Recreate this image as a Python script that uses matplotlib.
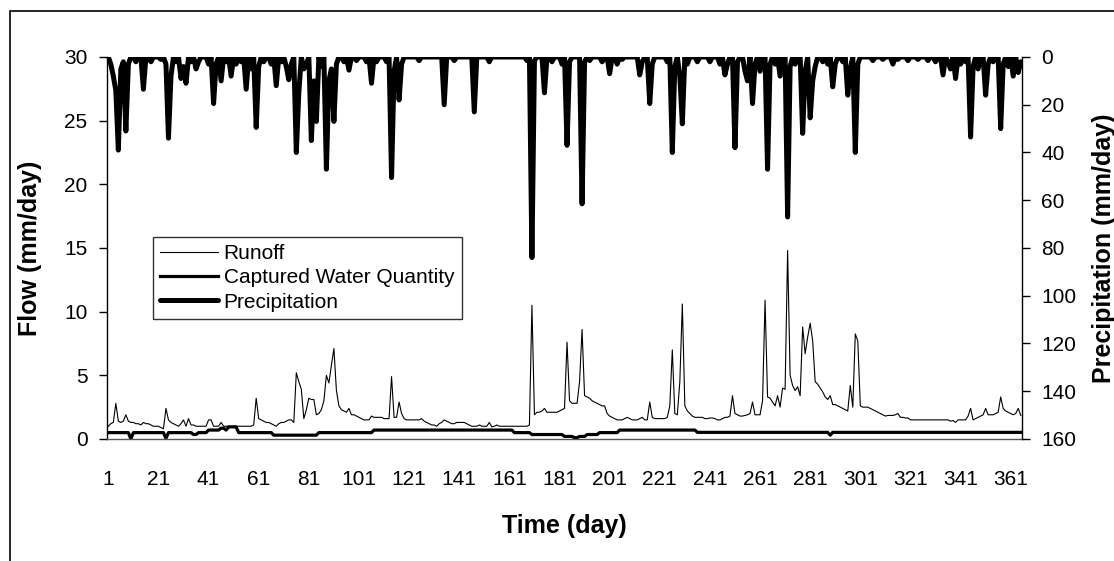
import numpy as np
import matplotlib
matplotlib.use('Agg')
import matplotlib.pyplot as plt
from matplotlib.patches import Rectangle

plt.rcParams['font.family'] = ['Liberation Sans', 'DejaVu Sans']

# daily runoff (mm/day), day 1..365
runoff = [
    1.0, 1.2, 1.3, 2.8, 1.4, 1.3, 1.4, 1.9, 1.4, 1.3,
    1.3, 1.2, 1.2, 1.1, 1.3, 1.2, 1.2, 1.1, 1.0, 1.0,
    1.0, 0.9, 0.8, 2.4, 1.5, 1.3, 1.2, 1.1, 1.0, 1.2,
    1.5, 1.0, 1.6, 1.1, 1.1, 1.0, 1.0, 1.0, 1.0, 1.0,
    1.5, 1.5, 1.0, 1.0, 1.0, 1.3, 1.0, 1.0, 1.0, 1.0,
    1.0, 1.0, 1.0, 1.0, 1.0, 1.0, 1.0, 1.0, 1.1, 3.2,
    1.6, 1.5, 1.4, 1.3, 1.3, 1.2, 1.1, 1.0, 1.2, 1.3,
    1.3, 1.4, 1.5, 1.5, 1.3, 5.2, 4.5, 3.9, 1.6, 2.3,
    3.2, 3.1, 3.1, 1.9, 2.0, 2.3, 3.0, 5.0, 4.4, 5.8,
    7.1, 3.8, 2.6, 2.3, 2.2, 2.1, 2.4, 1.9, 1.9, 1.8,
    1.7, 1.6, 1.5, 1.5, 1.5, 1.8, 1.7, 1.7, 1.7, 1.7,
    1.6, 1.6, 1.6, 4.9, 1.7, 1.7, 2.9, 2.0, 1.6, 1.5,
    1.5, 1.5, 1.5, 1.5, 1.5, 1.6, 1.4, 1.3, 1.2, 1.1,
    1.1, 1.0, 1.2, 1.3, 1.5, 1.4, 1.3, 1.2, 1.2, 1.3,
    1.3, 1.3, 1.3, 1.2, 1.1, 1.0, 1.0, 1.0, 1.1, 1.0,
    1.0, 1.0, 1.3, 0.95, 1.0, 1.1, 1.0, 1.0, 1.0, 1.0,
    1.0, 1.0, 1.0, 1.0, 1.0, 1.0, 1.0, 1.0, 1.1, 10.5,
    1.9, 2.1, 2.1, 2.2, 2.4, 2.1, 2.1, 2.1, 2.1, 2.1,
    2.2, 2.3, 2.4, 7.6, 3.0, 2.8, 2.8, 2.8, 4.5, 8.6,
    3.4, 3.3, 3.2, 3.0, 2.9, 2.8, 2.7, 2.6, 2.6, 2.0,
    1.8, 1.7, 1.6, 1.5, 1.5, 1.5, 1.6, 1.7, 1.6, 1.5,
    1.5, 1.5, 1.6, 1.7, 1.5, 1.5, 2.9, 1.7, 1.6, 1.6,
    1.6, 1.6, 1.6, 1.7, 2.6, 7.0, 2.0, 1.9, 4.5, 10.6,
    2.6, 2.2, 2.0, 1.8, 1.7, 1.7, 1.7, 1.7, 1.6, 1.6,
    1.65, 1.65, 1.6, 1.5, 1.5, 1.6, 1.7, 1.7, 1.8, 3.4,
    2.0, 1.9, 1.8, 1.8, 1.85, 1.9, 2.0, 2.9, 1.9, 1.9,
    1.9, 3.0, 10.9, 3.3, 3.2, 2.9, 2.6, 3.4, 2.5, 4.0,
    3.9, 14.8, 5.0, 4.2, 3.8, 4.1, 3.4, 8.8, 6.7, 8.0,
    9.1, 7.7, 4.5, 4.3, 4.0, 3.7, 3.3, 3.1, 3.4, 2.7,
    2.7, 2.6, 2.5, 2.4, 2.3, 2.2, 4.2, 2.5, 8.25, 7.7,
    2.6, 2.5, 2.5, 2.5, 2.4, 2.3, 2.2, 2.1, 2.0, 1.9,
    1.8, 1.85, 1.85, 1.85, 1.9, 2.0, 1.7, 1.7, 1.65, 1.65,
    1.5, 1.5, 1.5, 1.5, 1.5, 1.5, 1.5, 1.5, 1.5, 1.5,
    1.5, 1.5, 1.5, 1.5, 1.5, 1.5, 1.4, 1.45, 1.3, 1.5,
    1.5, 1.5, 1.5, 1.8, 2.4, 1.5, 1.6, 1.7, 1.8, 1.9,
    2.4, 1.9, 1.9, 1.9, 2.0, 2.1, 3.3, 2.4, 2.2, 2.1,
    2.0, 1.9, 2.0, 2.4, 1.85,
]

# captured water quantity: constant stretches (value, number of days)
captured_vals = [0.5, 0.0, 0.5, 0.05, 0.5, 0.35, 0.5, 0.7, 0.85, 0.7, 0.95, 0.5, 0.3,
                 0.5, 0.7, 0.5, 0.35, 0.2, 0.1, 0.2, 0.35, 0.5, 0.7, 0.52, 0.3, 0.52]
captured_runs = [9, 1, 13, 1, 10, 2, 4, 5, 2, 1, 4, 14, 18,
                 22, 56, 7, 13, 4, 2, 3, 5, 8, 31, 53, 1, 76]

# precipitation (mm/day), only the rainy days, all others are 0
precip_days = [2, 3, 4, 5, 6, 7, 8, 9, 12, 15, 18, 22, 24, 25, 26, 28, 30, 31, 32, 34,
               36, 37, 41, 43, 44, 46, 48, 50, 52, 54, 56, 58, 60, 61, 63, 66, 68, 70, 72, 73,
               74, 76, 77, 79, 80, 82, 83, 84, 86, 88, 89, 90, 91, 92, 95, 97, 100, 104, 106, 108,
               112, 114, 115, 117, 118, 125, 135, 139, 147, 153, 168, 170, 171, 175, 178, 182, 184, 185, 190, 191,
               193, 198, 201, 204, 206, 213, 214, 217, 218, 224, 226, 227, 229, 230, 232, 236, 241, 245, 247, 248,
               251, 252, 255, 256, 258, 259, 261, 264, 265, 267, 269, 272, 273, 275, 278, 279, 281, 282, 283, 286,
               288, 290, 291, 294, 296, 297, 299, 300, 306, 310, 314, 316, 320, 324, 328, 331, 334, 336, 337, 339,
               341, 343, 345, 346, 348, 351, 352, 354, 357, 358, 360, 362, 364, 365]
precip_vals = [3, 8, 14, 39, 5, 2, 31, 3, 2, 13.5, 2, 1, 3, 34, 8, 2, 9, 4, 11, 2,
               5, 2, 3, 19.5, 3, 10, 2, 8, 3, 2, 13.5, 5, 29.5, 4, 2, 3, 12, 2, 4, 9.5,
               3, 40, 15, 5, 3, 35, 10, 27, 4, 47, 10, 5, 27, 3, 2, 5.5, 1.5, 2, 11, 2,
               2, 50.5, 6, 18, 3, 1.5, 20, 1.5, 23, 2, 1.5, 84, 1.5, 15, 2, 3, 37, 2, 61.5, 2,
               1.5, 2, 7, 3, 1, 7.5, 2, 19.5, 3, 2, 40, 4, 8, 28, 3, 2, 2, 3, 7.5, 3,
               38, 2, 6, 10, 19.5, 3, 6, 47, 3, 3, 8, 67, 4, 3, 32, 6, 25.5, 10, 4, 2,
               3, 12.5, 3, 2, 16, 5, 40, 3, 1.5, 1, 3, 1, 1.5, 1, 1.5, 2, 7.5, 2, 5, 9,
               3, 2, 33.5, 4, 5, 16, 3, 2, 30, 3, 4, 8, 6.5, 2]

x_ticks = list(range(1, 366, 20))

days = np.arange(1, 366)
captured = np.repeat(captured_vals, captured_runs)
precip = np.zeros(365)
precip[np.array(precip_days) - 1] = precip_vals

fig = plt.figure(figsize=(11.14, 5.61), dpi=100)
ax = fig.add_axes([0.0961, 0.2175, 0.8213, 0.6809])
ax2 = ax.twinx()

l_run, = ax.plot(days, runoff, color='black', linewidth=0.8, label='Runoff')
l_cap, = ax.plot(days, captured, color='black', linewidth=2.3, label='Captured Water Quantity',
                 solid_joinstyle='round')
l_pre, = ax2.plot(days, precip, color='black', linewidth=3.6, label='Precipitation',
                  solid_joinstyle='round', solid_capstyle='round')

ax.set_xlim(0.5, 365.5)
ax.set_ylim(0, 30)
ax.set_yticks(range(0, 31, 5))
ax.set_xticks(x_ticks)
ax2.set_ylim(160, 0)
ax2.set_yticks(range(0, 161, 20))

for a in (ax, ax2):
    a.spines['top'].set_visible(False)
    for s in a.spines.values():
        s.set_linewidth(1.0)
ax.spines['right'].set_visible(False)
ax2.spines['left'].set_visible(False)
ax2.spines['bottom'].set_visible(False)
ax.spines['bottom'].set_color('#555555')

ax.tick_params(axis='y', direction='out', length=6, width=1, labelsize=15, pad=8)
ax.tick_params(axis='x', length=0, labelsize=15, pad=22)
ax2.tick_params(axis='y', direction='out', length=6, width=1, labelsize=15, pad=8)

ax.text(-0.084, 0.5, 'Flow (mm/day)', transform=ax.transAxes, rotation=90,
        ha='center', va='center', fontsize=18, fontweight='bold')
ax.text(1.0896, 0.5, 'Precipitation (mm/day)', transform=ax.transAxes, rotation=90,
        ha='center', va='center', fontsize=18, fontweight='bold', clip_on=False)
ax.set_xlabel('Time (day)', fontsize=18, fontweight='bold', labelpad=18)

leg = ax.legend(handles=[l_run, l_cap, l_pre], loc='upper left', bbox_to_anchor=(0.050, 0.529),
                fontsize=15, frameon=True, fancybox=False, handlelength=2.8, handletextpad=0.25,
                labelspacing=0.25, borderpad=0.35, borderaxespad=0)
leg.get_frame().set_edgecolor('black')
leg.get_frame().set_linewidth(1.0)
leg.set_zorder(10)

# chart border (only left and top edges are visible in the frame)
fig.add_artist(Rectangle((10 / 1114, -0.1), 1.2, 1.1 - 11 / 561, transform=fig.transFigure,
                         fill=False, edgecolor='black', linewidth=1.2))

fig.savefig('out.png', dpi=100)
